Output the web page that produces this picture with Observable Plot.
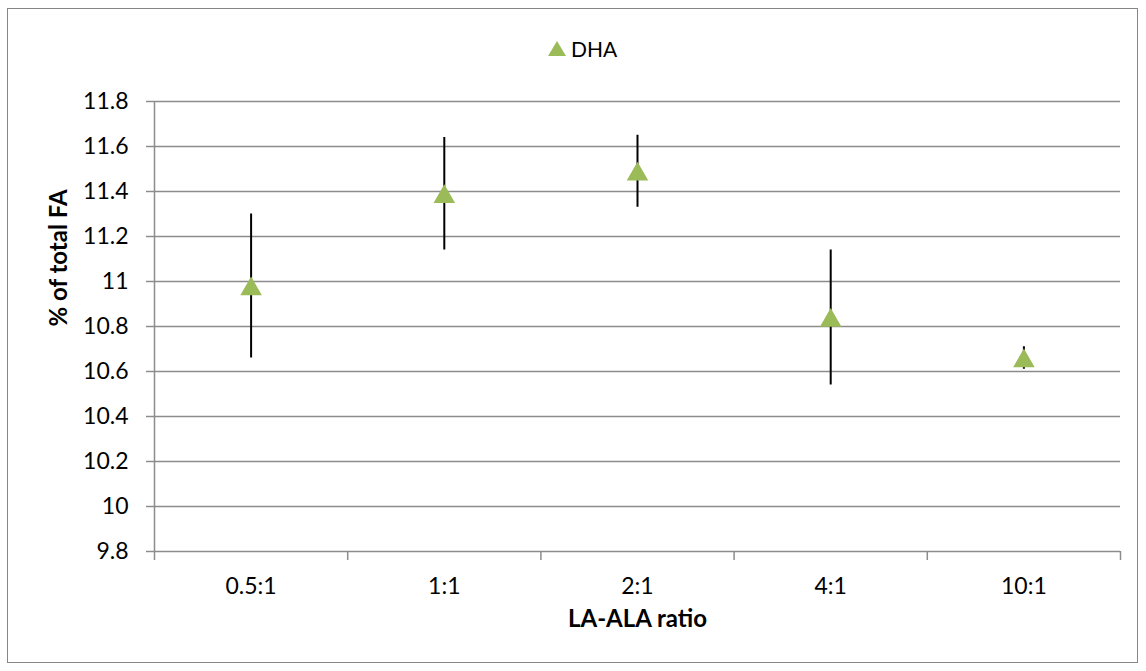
<!DOCTYPE html>
<html>
<head>
<meta charset="utf-8">
<script src="https://cdn.jsdelivr.net/npm/d3@7"></script>
<script src="https://cdn.jsdelivr.net/npm/@observablehq/plot@0.6"></script>
<style>
  body { margin: 0; background: #fff; }
  #wrap { position: relative; width: 1146px; height: 671px; font-family: Lato, "Open Sans", sans-serif; background: #fff; overflow: hidden; }
  #frame { position: absolute; left: 7px; top: 8px; width: 1131px; height: 655px; border: 1.5px solid #868686; pointer-events: none; box-sizing: border-box; }
  #legend { position: relative; height: 70px; }
  #legend svg.sym { position: absolute; left: 548px; top: 41px; }
  #legend span { position: absolute; left: 571px; top: 37px; font-size: 21px; color: #000; line-height: 24px; }
  #chart svg { display: block; }
</style>
</head>
<body>
<div id="wrap">
  <div id="legend">
    <svg class="sym" width="18" height="15"><polygon points="9,0 18,15 0,15" fill="#9bbb59"></polygon></svg>
    <span>DHA</span>
  </div>
  <div id="chart"></div>
  <div id="frame"></div>
</div>
<script>
const ratios = ["0.5:1", "1:1", "2:1", "4:1", "10:1"];
const dha = [10.98, 11.39, 11.49, 10.84, 10.66];
const dhaErr = [0.32, 0.25, 0.16, 0.30, 0.05];
const yTicks = [9.8, 10, 10.2, 10.4, 10.6, 10.8, 11, 11.2, 11.4, 11.6, 11.8];
const bandEdges = [0, 1, 2, 3, 4, 5];

const data = ratios.map((r, i) => ({
  ratio: r,
  pos: i + 0.5,
  value: dha[i],
  lo: dha[i] - dhaErr[i],
  hi: dha[i] + dhaErr[i]
}));

const gray = "#8c8c8c";

const chart = Plot.plot({
  width: 1146,
  height: 601,
  marginTop: 31,
  marginBottom: 120,
  marginLeft: 154,
  marginRight: 26,
  style: { fontFamily: "Lato, 'Open Sans', sans-serif", fontSize: "23px", color: "#000", background: "#fff", overflow: "visible" },
  x: { type: "linear", domain: [0, 5] },
  y: { domain: [9.8, 11.8] },
  marks: [
    Plot.gridY(yTicks, { stroke: gray, strokeOpacity: 1, strokeWidth: 1.5 }),
    Plot.ruleX([0], { stroke: gray, strokeWidth: 1.5 }),
    Plot.axisY(yTicks, {
      tickSize: 8, tickPadding: 18, stroke: gray, strokeWidth: 1.5, fill: "#000", fontSize: 23,
      tickFormat: d => String(+d.toFixed(1)), label: null
    }),
    Plot.axisX(bandEdges, { tickSize: 9, stroke: gray, strokeWidth: 1.5, tickFormat: () => "", label: null }),
    Plot.axisX(data.map(d => d.pos), {
      tickSize: 0, tickPadding: 26, fill: "#000", fontSize: 23,
      tickFormat: d => ratios[Math.floor(d)], label: null
    }),
    Plot.text(["% of total FA"], { text: d => d, frameAnchor: "left", dx: -95, rotate: -90, fontWeight: "bold", fontSize: 24, fill: "#000" }),
    Plot.text(["LA-ALA ratio"], { text: d => d, frameAnchor: "bottom", dy: 75, fontWeight: "bold", fontSize: 24, fill: "#000" }),
    Plot.ruleX(data, { x: "pos", y1: "lo", y2: "hi", stroke: "#000", strokeWidth: 2 }),
    Plot.dot(data, { x: "pos", y: "value", symbol: "triangle", r: 8, fill: "#9bbb59", stroke: "none", dy: 3 })
  ]
});
document.getElementById("chart").appendChild(chart);
</script>
</body>
</html>
